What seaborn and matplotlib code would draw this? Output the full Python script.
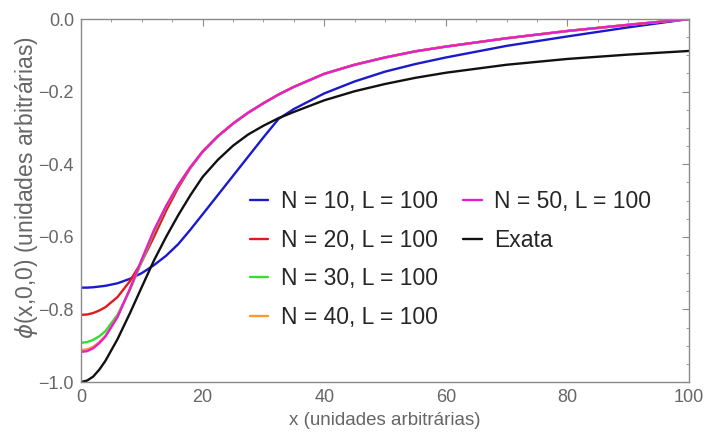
import numpy as np
import pandas as pd
import matplotlib
matplotlib.use("Agg")
import matplotlib.pyplot as plt
from matplotlib.lines import Line2D
from matplotlib.ticker import MultipleLocator
import seaborn as sns

# ---- data ----
x = [0, 1, 2, 3, 4, 6, 8, 10, 12, 14, 16, 18, 20, 22.5, 25, 27.5, 30, 32.5, 35,
     40, 45, 50, 55, 60, 70, 80, 90, 100]

n10 = [-0.740, -0.740, -0.739, -0.737, -0.735, -0.728, -0.716, -0.700, -0.678, -0.652,
       -0.620, -0.580, -0.538, -0.485, -0.432, -0.379, -0.326, -0.275, -0.248,
       -0.205, -0.172, -0.145, -0.124, -0.106, -0.074, -0.048, -0.023, 0.0]
n20 = [-0.815, -0.814, -0.810, -0.803, -0.794, -0.766, -0.723, -0.668, -0.600, -0.528,
       -0.464, -0.410, -0.366, -0.323, -0.288, -0.258, -0.232, -0.208, -0.187,
       -0.151, -0.126, -0.106, -0.089, -0.076, -0.053, -0.033, -0.016, 0.0]
n30 = [-0.892, -0.890, -0.884, -0.874, -0.860, -0.815, -0.748, -0.668, -0.587, -0.517,
       -0.458, -0.408, -0.365, -0.323, -0.288, -0.258, -0.232, -0.208, -0.187,
       -0.151, -0.126, -0.106, -0.089, -0.076, -0.053, -0.033, -0.016, 0.0]
n40 = [-0.912, -0.910, -0.903, -0.890, -0.873, -0.820, -0.746, -0.663, -0.583, -0.515,
       -0.457, -0.408, -0.365, -0.323, -0.288, -0.258, -0.232, -0.208, -0.187,
       -0.151, -0.126, -0.106, -0.089, -0.076, -0.053, -0.033, -0.016, 0.0]
n50 = [-0.917, -0.915, -0.907, -0.893, -0.875, -0.821, -0.745, -0.662, -0.582, -0.515,
       -0.457, -0.408, -0.365, -0.323, -0.288, -0.258, -0.232, -0.208, -0.187,
       -0.151, -0.126, -0.106, -0.089, -0.076, -0.053, -0.033, -0.016, 0.0]
exata = [-1.000, -0.996, -0.985, -0.966, -0.942, -0.882, -0.812, -0.738, -0.665, -0.600,
         -0.540, -0.485, -0.435, -0.388, -0.349, -0.318, -0.294, -0.273, -0.256,
         -0.224, -0.199, -0.179, -0.162, -0.148, -0.126, -0.110, -0.098, -0.088]

labels = ["N = 10, L = 100", "N = 20, L = 100", "N = 30, L = 100",
          "N = 40, L = 100", "N = 50, L = 100", "Exata"]
series = [n10, n20, n30, n40, n50, exata]
colors = ["#1a1acc", "#e01a1a", "#33dd33", "#ff9933", "#e61ecf", "#111111"]

xticks = [0, 20, 40, 60, 80, 100]
yticks = [-1.0, -0.8, -0.6, -0.4, -0.2, 0.0]
ytick_labels = ["\u22121.0", "\u22120.8", "\u22120.6", "\u22120.4", "\u22120.2", "0.0"]

df = pd.DataFrame({
    "x": np.tile(x, len(series)),
    "phi": np.concatenate(series),
    "serie": np.repeat(labels, len(x)),
})

sns.set_style("white")
plt.rcParams["font.family"] = ["Liberation Sans", "DejaVu Sans"]
plt.rcParams["mathtext.fontset"] = "dejavusans"

fig = plt.figure(figsize=(7.07, 4.32), dpi=100)
ax = fig.add_axes([0.1146, 0.1157, 0.86, 0.8403])

sns.lineplot(data=df, x="x", y="phi", hue="serie", hue_order=labels,
             palette=dict(zip(labels, colors)), linewidth=1.7, ax=ax,
             legend=False, sort=False, estimator=None)

ax.set_xlim(0, 100)
ax.set_ylim(-1.0, 0.0)
ax.set_xticks(xticks)
ax.set_yticks(yticks)
ax.set_xticklabels([str(v) for v in xticks])
ax.set_yticklabels(ytick_labels)
ax.xaxis.set_minor_locator(MultipleLocator(5))
ax.yaxis.set_minor_locator(MultipleLocator(0.05))

gray = "#8a8a8a"
for s in ax.spines.values():
    s.set_color(gray)
    s.set_linewidth(1.0)
ax.tick_params(which="both", direction="in", top=True, right=True, color=gray)
ax.tick_params(which="major", length=5, width=0.8, labelsize=13, labelcolor="#666666", pad=5)
ax.tick_params(which="minor", length=2.5, width=0.6)

ax.set_xlabel("x (unidades arbitrárias)", fontsize=13.5, color="#666666")
ax.set_ylabel("$\\phi$(x,0,0) (unidades arbitrárias)", fontsize=16.5, color="#666666")
ax.xaxis.set_label_coords(0.5, -0.083)
ax.yaxis.set_label_coords(-0.068, 0.535)

handles = [Line2D([0], [0], color=c, lw=1.7) for c in colors]
blank = Line2D([0], [0], color="none")
h = handles + [blank, blank]
l = labels + ["", ""]
leg = ax.legend(h, l, ncol=2, loc="upper left", bbox_to_anchor=(0.263, 0.554),
                frameon=False, fontsize=16.5, handlelength=0.8, handletextpad=0.55,
                columnspacing=1.1, labelspacing=0.68, borderaxespad=0)

fig.savefig("out.png", dpi=100)
